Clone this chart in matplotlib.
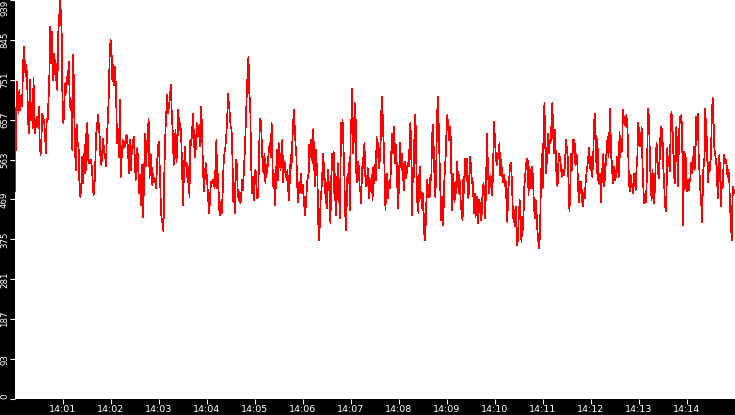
import numpy as np
import matplotlib
matplotlib.use("Agg")
import matplotlib.pyplot as plt

# values, one list per 1.875 minute slice (14:00 -> 14:15)
seg1 = [488, 617, 747, 704, 672, 727, 680, 708, 688, 774, 829, 794, 759, 786, 727, 649, 625, 751, 657, 696,
        637, 755, 633, 625, 660, 664, 641, 688, 602, 574, 617, 672, 660, 657, 625, 578, 660, 657, 704, 766,
        876, 790, 864, 751, 813, 798, 751, 790, 727, 861, 892, 939, 908, 853, 657, 649, 704, 743, 719, 759,
        755, 794, 704, 680, 704, 586, 810, 715, 586, 539, 645, 594, 602, 508, 476, 492, 570, 508, 578, 531,
        625, 539, 649, 570, 555, 558, 562, 547, 515, 480, 496, 555, 625, 641, 668, 641, 617, 558, 551, 586,
        613, 578]
seg2 = [578, 547, 617, 653, 711, 806, 845, 821, 747, 786, 739, 782, 711, 602, 637, 570, 704, 523, 570, 609,
        590, 606, 594, 621, 617, 574, 531, 609, 539, 590, 602, 617, 574, 515, 578, 590, 531, 484, 527, 457,
        551, 429, 504, 625, 547, 586, 621, 660, 519, 578, 562, 504, 531, 511, 519, 496, 543, 594, 606, 543,
        472, 417, 425, 394, 539, 621, 672, 715, 672, 692, 711, 739, 668, 629, 551, 594, 633, 558, 594, 680,
        633, 649, 625, 551, 457, 527, 594, 547, 555, 511, 547, 476, 609, 598, 637, 672, 602]
seg3 = [570, 594, 649, 617, 629, 645, 594, 688, 625, 539, 488, 523, 555, 531, 500, 464, 437, 480, 511, 508,
        515, 511, 496, 547, 609, 496, 531, 449, 433, 464, 437, 484, 551, 578, 590, 617, 653, 719, 696, 672,
        641, 637, 570, 464, 508, 437, 562, 551, 484, 468, 488, 460, 484, 515, 492, 547, 586, 649, 711, 766,
        806, 719, 688, 555, 484, 523, 468, 531, 539, 500, 472, 476, 594, 660, 653, 602, 547, 531, 578, 508,
        551, 531, 562, 590, 602, 570, 649, 547, 496, 531, 457, 531, 586, 515, 602, 570, 539, 582, 609, 511,
        558]
seg4 = [555, 531, 515, 539, 492, 468, 523, 574, 543, 602, 649, 680, 641, 598, 574, 508, 464, 508, 484, 515,
        531, 484, 504, 476, 449, 433, 468, 496, 527, 519, 598, 570, 609, 582, 555, 637, 547, 500, 586, 555,
        523, 417, 374, 413, 472, 492, 531, 578, 547, 484, 519, 460, 449, 539, 508, 484, 413, 515, 578, 539,
        582, 468, 531, 433, 484, 555, 531, 464, 425, 649, 613, 657, 602, 543, 453, 398, 449, 531, 508, 555,
        445, 657, 625, 731, 578, 617, 696, 680, 531, 511, 558, 547, 500, 488, 460, 547, 543, 582, 602, 527,
        500, 504, 543, 531, 472, 511, 508, 527, 468, 547, 508]
seg5 = [551, 515, 617, 570, 602, 543, 562, 606, 688, 711, 633, 594, 531, 445, 500, 531, 472, 500, 515, 496,
        562, 625, 578, 594, 641, 555, 598, 555, 484, 449, 527, 602, 562, 539, 578, 523, 492, 558, 555, 519,
        547, 555, 547, 602, 649, 602, 433, 543, 511, 613, 668, 629, 464, 523, 437, 523, 547, 472, 488, 445,
        484, 398, 374, 406, 468, 515, 476, 504, 476, 527, 515, 617, 645, 594, 523, 476, 523, 637, 711, 668,
        582, 523, 421, 476, 445, 409, 504, 539, 574, 633, 668, 641, 609, 641, 633, 531, 445, 531, 488, 464,
        511, 484, 558, 531, 484, 527, 492, 453, 437, 421, 523, 484]
seg6 = [566, 523, 566, 484, 472, 531, 570, 535, 508, 511, 437, 484, 429, 453, 476, 413, 468, 457, 421, 437,
        492, 508, 476, 425, 527, 625, 543, 484, 511, 527, 492, 480, 566, 653, 606, 570, 551, 578, 566, 602,
        527, 562, 531, 511, 527, 500, 515, 468, 417, 492, 515, 551, 555, 519, 457, 417, 445, 406, 453, 362,
        374, 433, 468, 406, 370, 429, 398, 492, 519, 547, 566, 562, 480, 547, 523, 496, 547, 523, 464, 425,
        468, 445, 398, 374, 355, 390, 504, 578, 496, 629, 696, 594, 531, 574, 625, 578, 609, 602, 649, 696,
        617, 578]
seg7 = [633, 574, 511, 500, 558, 578, 562, 547, 523, 539, 531, 527, 566, 609, 590, 570, 504, 441, 500, 578,
        539, 609, 578, 609, 551, 578, 570, 511, 464, 511, 484, 511, 464, 453, 484, 472, 508, 531, 547, 562,
        590, 543, 570, 531, 523, 570, 649, 672, 613, 531, 613, 515, 508, 531, 464, 511, 551, 578, 500, 531,
        562, 590, 617, 570, 629, 684, 574, 555, 508, 539, 547, 515, 531, 570, 547, 523, 629, 570, 609, 582,
        680, 653, 664, 641, 668, 649, 602, 515, 488, 527, 511, 500, 484, 531, 511, 492, 543, 570, 649, 629,
        594, 598, 641, 555, 500, 460]
seg8 = [476, 464, 508, 606, 684, 649, 562, 504, 468, 539, 511, 460, 496, 562, 602, 570, 531, 519, 578, 641,
        594, 637, 551, 515, 468, 441, 476, 590, 547, 562, 535, 625, 676, 657, 602, 531, 508, 594, 641, 570,
        500, 598, 664, 649, 668, 633, 409, 582, 492, 578, 531, 488, 515, 492, 511, 519, 555, 531, 543, 594,
        539, 562, 664, 609, 672, 574, 531, 492, 468, 417, 492, 566, 547, 684, 633, 609, 511, 531, 558, 539,
        586, 672, 708, 657, 590, 578, 555, 547, 472, 515, 574, 531, 453, 511, 496, 547, 574, 555, 562, 547,
        523, 539, 519, 453, 413, 374, 476, 500, 484]

x_tick_labels = ["14:01", "14:02", "14:03", "14:04", "14:05", "14:06", "14:07",
                 "14:08", "14:09", "14:10", "14:11", "14:12", "14:13", "14:14"]
y_tick_labels = ["0", "93", "187", "281", "375", "469", "563", "657", "751", "845", "939"]
y_max = 939

segs = [seg1, seg2, seg3, seg4, seg5, seg6, seg7, seg8]
span = 15 / len(segs)  # minutes per slice
xs, ys = [], []
for k, s in enumerate(segs):
    xs.append(np.linspace(k * span, (k + 1) * span, len(s), endpoint=False))
    ys.append(np.array(s))
x = np.concatenate(xs)
y = np.concatenate(ys)

fig = plt.figure(figsize=(7.35, 4.15), dpi=100, facecolor="black")
ax = fig.add_axes([15 / 735, 16 / 415, 720 / 735, 399 / 415])
ax.set_facecolor("white")
for sp in ax.spines.values():
    sp.set_visible(False)

ax.plot(x, y, color="#ff0000", lw=0.5, antialiased=False)

ax.set_xlim(0, 15)
ax.set_ylim(0, y_max)
ax.set_xticks(range(1, 15))
ax.set_xticklabels(x_tick_labels)
ax.set_yticks([y_max / 10 * i for i in range(11)])
ax.set_yticklabels(y_tick_labels, rotation=90, va="center")
# keep the end labels inside the figure
ylabs = ax.get_yticklabels()
ylabs[0].set_va("bottom")
ylabs[-1].set_va("top")

ax.tick_params(axis="both", colors="white", length=3.5, width=0.8, pad=0.8)
ax.tick_params(axis="x", labelsize=6.8)
ax.tick_params(axis="y", labelsize=6.2)

fig.savefig("out.png", dpi=100, facecolor="black")
